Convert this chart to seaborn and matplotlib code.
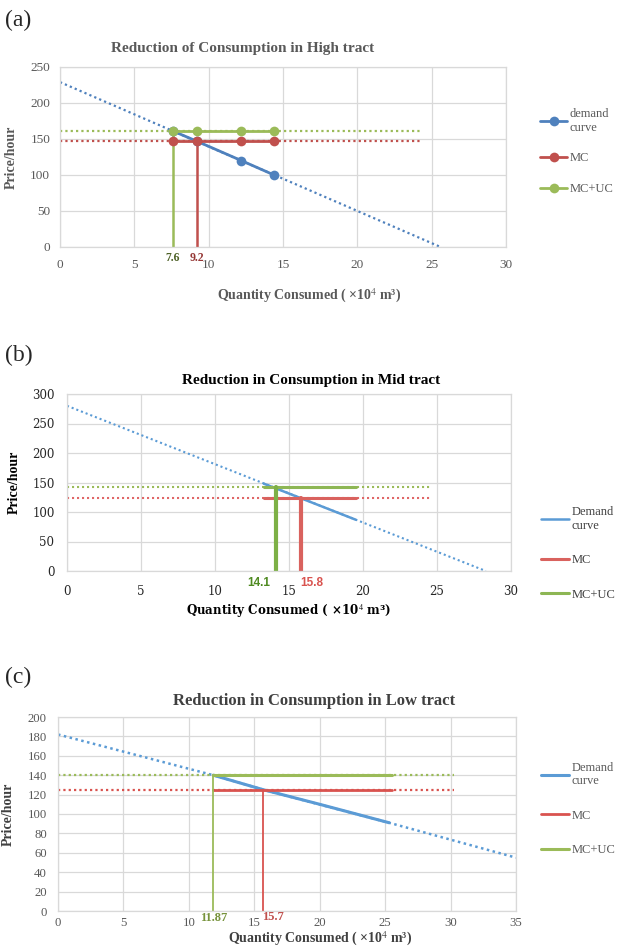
import matplotlib
matplotlib.use("Agg")
import matplotlib.pyplot as plt
import seaborn as sns
from matplotlib import transforms

sns.set_theme(style="white")
plt.rcParams["font.family"] = ["Liberation Serif", "DejaVu Serif"]
plt.rcParams["mathtext.fontset"] = "stix"

# ---------------- data ----------------
# (a) High tract
a_dem_dot_x = [0, 25.6]
a_dem_dot_y = [229, 0]
a_q = [7.6, 9.2, 12.2, 14.4]
a_demand = [161, 147, 120, 100]
a_mc = [147, 147, 147, 147]
a_mcuc = [161, 161, 161, 161]
a_ext_x = [0, 24.3]
a_mc_ext = [147, 147]
a_mcuc_ext = [161, 161]
a_q_mcuc, a_q_mc = 7.6, 9.2
a_labels = ["7.6", "9.2"]
a_xticks = [0, 5, 10, 15, 20, 25, 30]
a_yticks = [0, 50, 100, 150, 200, 250]

# (b) Mid tract
b_dem_dot_x = [0, 28.3]
b_dem_dot_y = [280, 0]
b_dem_x = [13.3, 19.5]
b_dem_y = [148, 87]
b_seg_x = [13.3, 19.5]
b_mc = [124, 124]
b_mcuc = [142, 142]
b_ext_x = [0, 24.5]
b_mc_ext = [124, 124]
b_mcuc_ext = [142, 142]
b_q_mcuc, b_q_mc = 14.1, 15.8
b_labels = ["14.1", "15.8"]
b_xticks = [0, 5, 10, 15, 20, 25, 30]
b_yticks = [0, 50, 100, 150, 200, 250, 300]

# (c) Low tract
c_dem_dot_x = [0, 11.87, 15.7, 25.3, 35]
c_dem_dot_y = [182, 140, 125, 91, 55]
c_dem_x = [11.87, 15.7, 20, 25.3]
c_dem_y = [140, 125, 110, 91]
c_seg_x = [11.87, 25.5]
c_mc = [125, 125]
c_mcuc = [140, 140]
c_ext_x = [0, 30.3]
c_mc_ext = [125, 125]
c_mcuc_ext = [140, 140]
c_q_mcuc, c_q_mc = 11.87, 15.7
c_labels = ["11.87", "15.7"]
c_xticks = [0, 5, 10, 15, 20, 25, 30, 35]
c_yticks = list(range(0, 201, 20))

BLUE = "#4F81BD"
RED = "#C0504D"
GREEN = "#9BBB59"
DOT = (0, (1, 1.4))

fig = plt.figure(figsize=(6.19, 9.49), dpi=100)
W, H = 619, 949


def make_ax(l, r, t, b):
    return fig.add_axes([l / W, 1 - b / H, (r - l) / W, (b - t) / H])


def style_ax(ax, xlim, ylim, xticks, yticks, tick_color, tick_font, tick_size, xpad, ypad):
    ax.set_xlim(*xlim)
    ax.set_ylim(*ylim)
    ax.set_xticks(xticks)
    ax.set_yticks(yticks)
    ax.grid(True, color="#D9D9D9", lw=0.9)
    ax.set_axisbelow(True)
    for s in ax.spines.values():
        s.set_color("#D9D9D9")
        s.set_linewidth(0.9)
    ax.tick_params(length=0, colors=tick_color, labelsize=tick_size)
    ax.tick_params(axis="x", pad=xpad)
    ax.tick_params(axis="y", pad=ypad)
    for lab in ax.get_xticklabels() + ax.get_yticklabels():
        lab.set_family(tick_font)


def line(ax, x, y, color, lw, ls="-", label=None, marker=None, ms=0):
    sns.lineplot(x=x, y=y, ax=ax, color=color, lw=lw, linestyle=ls, label=label,
                 marker=marker, markersize=ms, markeredgewidth=0,
                 estimator=None, sort=False)


def legend(ax, x, y, spacing, color):
    leg = ax.legend(loc="center left", bbox_to_anchor=(x, y), frameon=False,
                    handlelength=2.2, labelspacing=spacing, fontsize=9,
                    handletextpad=0.2, borderaxespad=0, borderpad=0)
    for t in leg.get_texts():
        t.set_color(color)


# ---------------- (a) ----------------
ax = make_ax(60, 506, 67, 247)
line(ax, a_dem_dot_x, a_dem_dot_y, BLUE, 1.6, DOT)
line(ax, a_ext_x, a_mc_ext, RED, 1.6, DOT)
line(ax, a_ext_x, a_mcuc_ext, GREEN, 1.6, DOT)
line(ax, [a_q_mcuc, a_q_mcuc], [0, a_mcuc[0]], GREEN, 1.8)
line(ax, [a_q_mc, a_q_mc], [0, a_mc[0]], RED, 1.8)
line(ax, a_q, a_demand, BLUE, 2.0, label="demand\ncurve", marker="o", ms=7)
line(ax, a_q, a_mc, RED, 2.0, label="MC", marker="o", ms=7)
line(ax, a_q, a_mcuc, GREEN, 2.0, label="MC+UC", marker="o", ms=7)
style_ax(ax, (0, 30), (0, 250), a_xticks, a_yticks, "#595959", "Liberation Serif", 9.5, 9, 7)
tr = transforms.blended_transform_factory(ax.transData, ax.transAxes)
ax.text(a_q_mcuc, -0.06, a_labels[0], transform=tr, ha="center", va="center",
        color="#4F6228", fontsize=8.5, fontweight="bold")
ax.text(a_q_mc, -0.06, a_labels[1], transform=tr, ha="center", va="center",
        color="#953735", fontsize=8.5, fontweight="bold")
ax.text(0.41, 1.105, "Reduction of Consumption in High tract", transform=ax.transAxes,
        ha="center", va="center", fontsize=11, fontweight="bold", color="#595959")
ax.set_xlabel("Quantity Consumed ( ×10$^4$ m³)", fontsize=10, fontweight="bold", color="#595959")
ax.xaxis.set_label_coords(0.558, -0.27)
ax.xaxis.label.set_va("center")
ax.set_ylabel("Price/hour", fontsize=10, fontweight="bold", color="#595959")
ax.yaxis.set_label_coords(-0.094, 0.5)
legend(ax, 1.076, 0.53, 1.5, "#595959")
fig.text(5 / W, 1 - 20 / H, "(a)", fontsize=17, va="center", ha="left")

# ---------------- (b) ----------------
ax = make_ax(67, 511, 394, 571)
line(ax, b_dem_dot_x, b_dem_dot_y, "#5B9BD5", 1.5, DOT)
line(ax, b_ext_x, b_mcuc_ext, GREEN, 1.5, DOT)
line(ax, b_ext_x, b_mc_ext, "#E06666", 1.5, DOT)
line(ax, b_dem_x, b_dem_y, "#5B9BD5", 1.8, label="Demand\ncurve")
line(ax, b_seg_x, b_mc, "#D9625E", 2.2, label="MC")
line(ax, b_seg_x, b_mcuc, "#8DB654", 2.2, label="MC+UC")
line(ax, [b_q_mcuc, b_q_mcuc], [0, b_mcuc[0]], "#7DB046", 3.0)
line(ax, [b_q_mc, b_q_mc], [0, b_mc[0]], "#D9625E", 3.0)
style_ax(ax, (0, 30), (0, 300), b_xticks, b_yticks, "#262626", "DejaVu Serif", 8.5, 10, 9)
tr = transforms.blended_transform_factory(ax.transData, ax.transAxes)
ax.text(b_q_mcuc - 0.35, -0.066, b_labels[0], transform=tr, ha="right", va="center",
        color="#4F8A21", fontsize=8.5, fontweight="bold", family="Liberation Sans")
ax.text(b_q_mc - 0.05, -0.066, b_labels[1], transform=tr, ha="left", va="center",
        color="#D9534F", fontsize=8.5, fontweight="bold", family="Liberation Sans")
ax.text(0.55, 1.075, "Reduction in Consumption in Mid tract", transform=ax.transAxes,
        ha="center", va="center", fontsize=11, fontweight="bold", color="black")
ax.set_xlabel("Quantity Consumed ( ×10$^4$ m³)", fontsize=8.6, fontweight="bold", color="black",
              family=["DejaVu Serif"])
ax.xaxis.set_label_coords(0.5, -0.23)
ax.xaxis.label.set_va("center")
ax.set_ylabel("Price/hour", fontsize=10, fontweight="bold", color="black")
ax.yaxis.set_label_coords(-0.105, 0.5)
legend(ax, 1.068, 0.1, 1.8, "#404040")
fig.text(5 / W, 1 - 355 / H, "(b)", fontsize=17, va="center", ha="left")

# ---------------- (c) ----------------
ax = make_ax(58, 516, 717, 911)
line(ax, c_dem_dot_x, c_dem_dot_y, "#5B9BD5", 1.8, DOT)
line(ax, c_ext_x, c_mcuc_ext, GREEN, 1.6, DOT)
line(ax, c_ext_x, c_mc_ext, "#D9534F", 1.6, DOT)
line(ax, c_dem_x, c_dem_y, "#5B9BD5", 2.2, label="Demand\ncurve")
line(ax, c_seg_x, c_mc, "#D9534F", 2.0, label="MC")
line(ax, c_seg_x, c_mcuc, GREEN, 2.2, label="MC+UC")
line(ax, [c_q_mcuc, c_q_mcuc], [0, c_mcuc[0]], GREEN, 1.3)
line(ax, [c_q_mc, c_q_mc], [0, c_mc[0]], "#D9534F", 1.3)
style_ax(ax, (0, 35), (0, 200), c_xticks, c_yticks, "#595959", "Liberation Serif", 9.2, 4, 8)
tr = transforms.blended_transform_factory(ax.transData, ax.transAxes)
ax.text(c_q_mcuc, -0.035, c_labels[0], transform=tr, ha="center", va="center",
        color="#77933C", fontsize=9, fontweight="bold")
ax.text(c_q_mc + 0.7, -0.03, c_labels[1], transform=tr, ha="center", va="center",
        color="#C0504D", fontsize=9, fontweight="bold")
ax.text(0.56, 1.085, "Reduction in Consumption in Low tract", transform=ax.transAxes,
        ha="center", va="center", fontsize=12, fontweight="bold", color="#404040")
ax.set_xlabel("Quantity Consumed ( ×10$^4$ m³)", fontsize=10, fontweight="bold", color="#404040")
ax.xaxis.set_label_coords(0.572, -(948 - 911) / 194)
ax.xaxis.label.set_va("bottom")
ax.set_ylabel("Price/hour", fontsize=10, fontweight="bold", color="#404040")
ax.yaxis.set_label_coords(-0.095, 0.5)
legend(ax, 1.055, 0.526, 1.8, "#595959")
fig.text(5 / W, 1 - 677 / H, "(c)", fontsize=17, va="center", ha="left")

fig.savefig("out.png", dpi=100)
